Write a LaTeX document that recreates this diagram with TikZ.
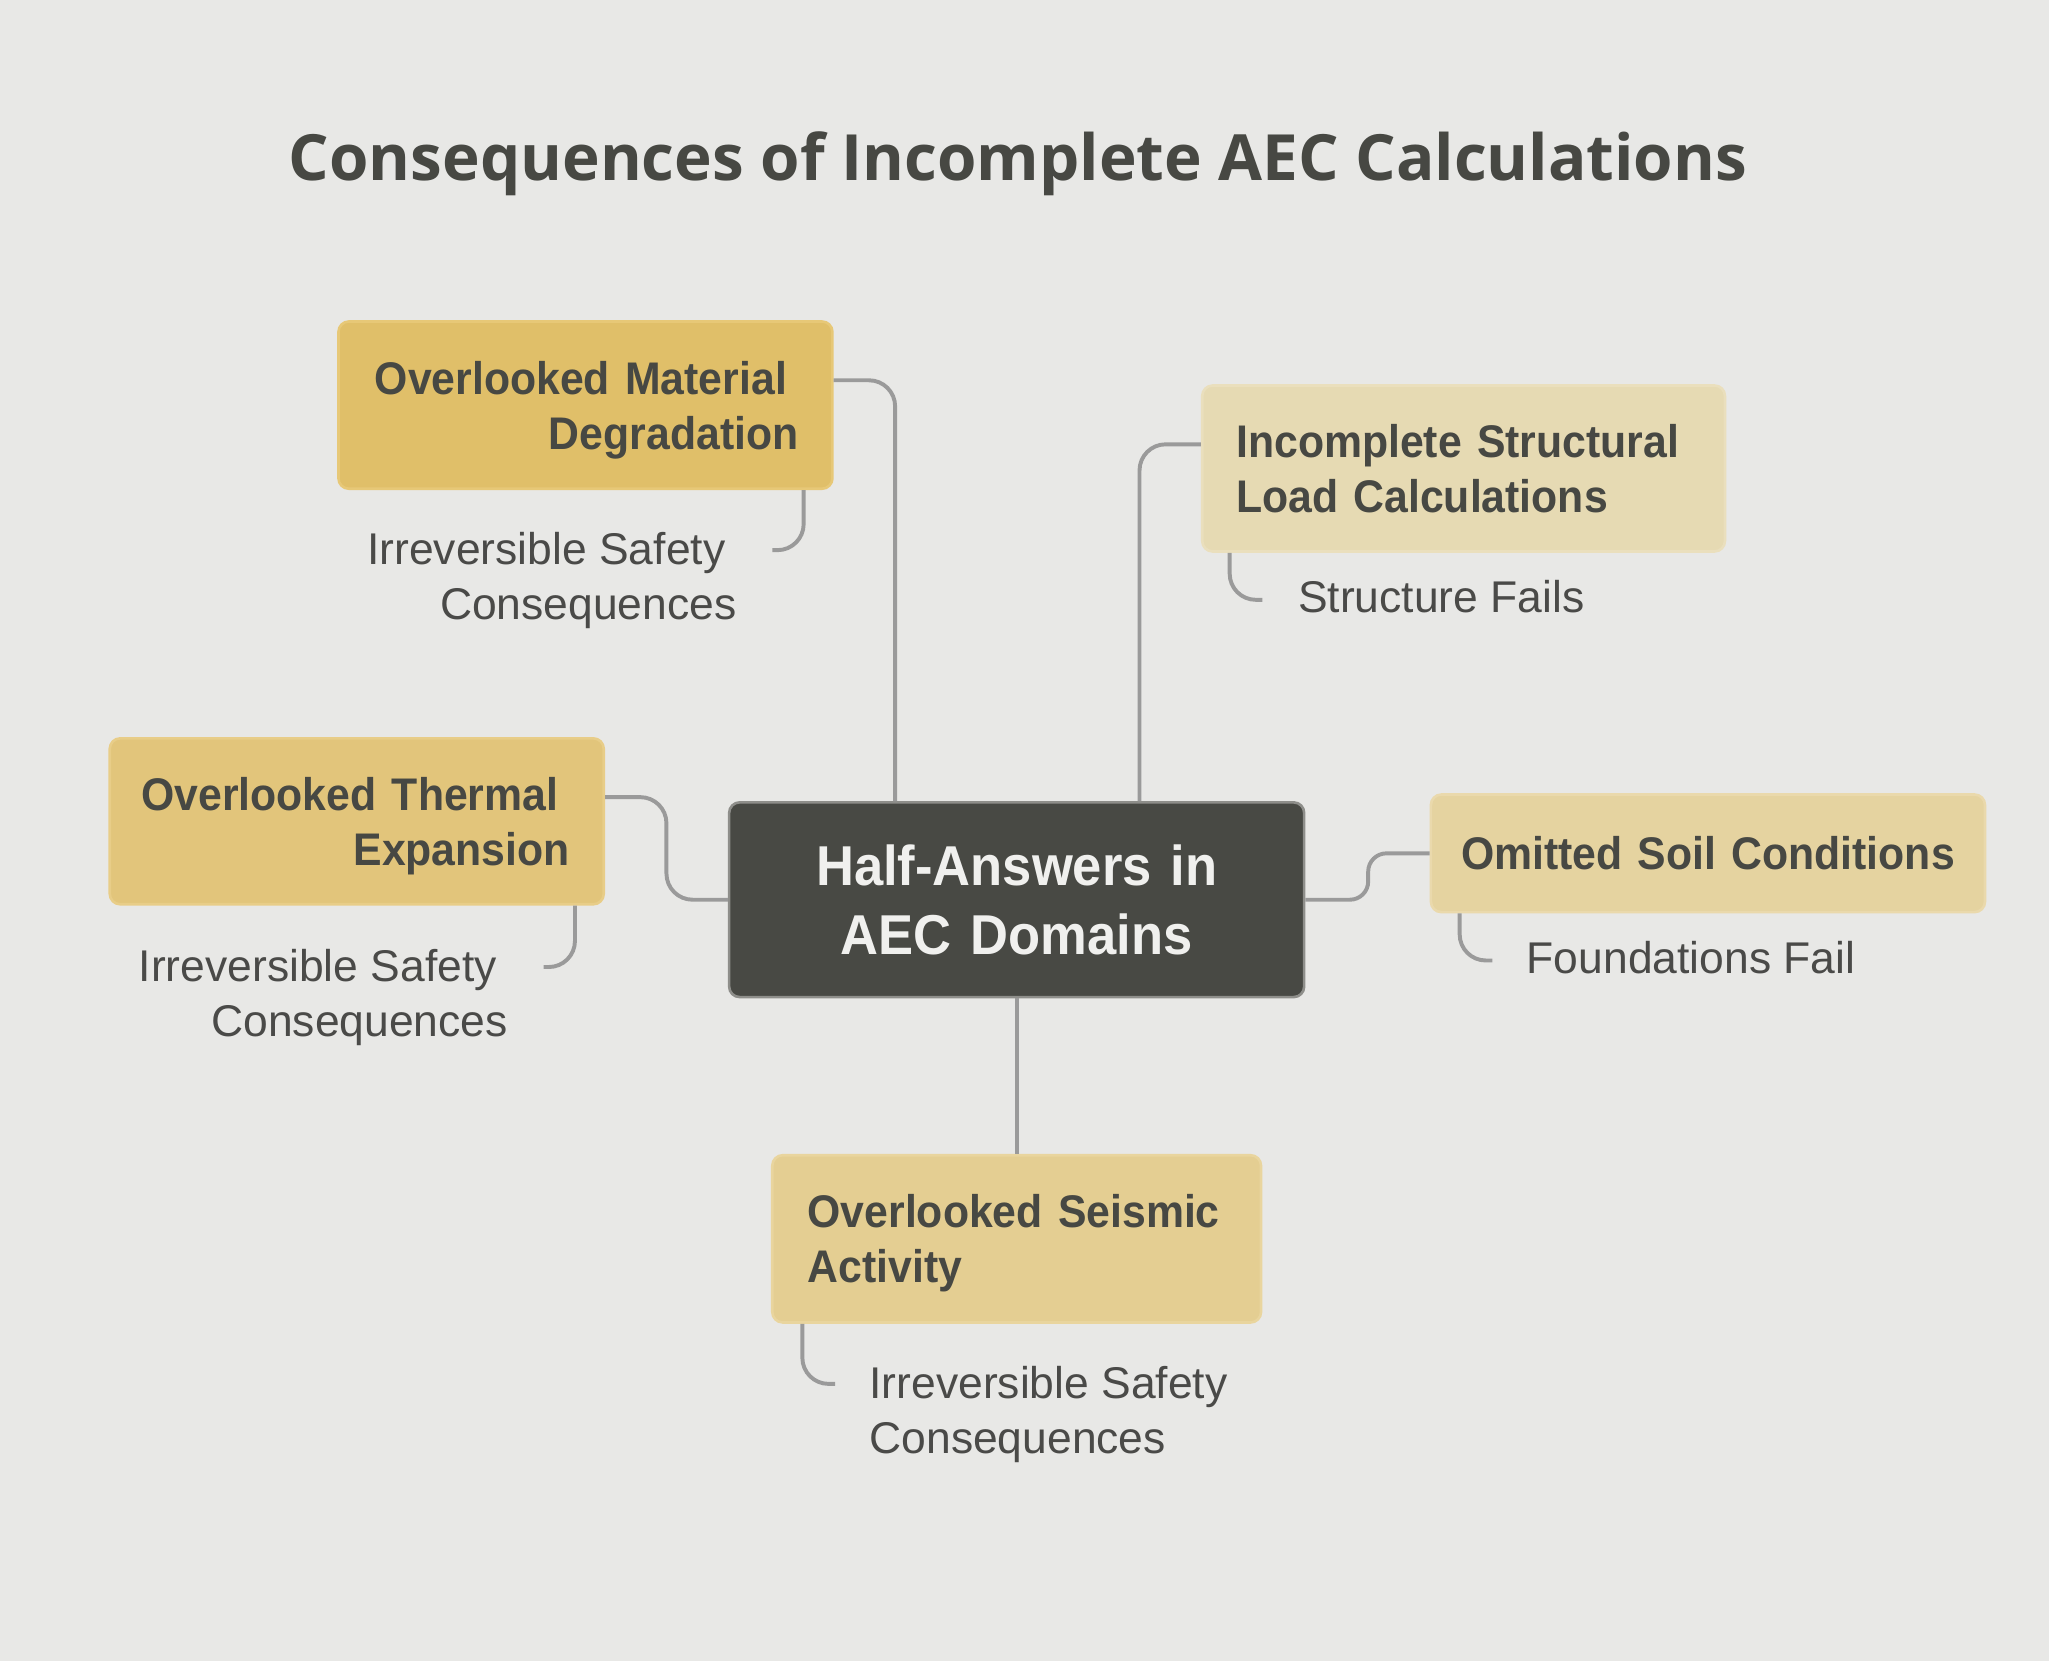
\documentclass[tikz,border=0pt]{standalone}
\usepackage{fontspec}
\setmainfont{Liberation Sans}
\newfontfamily\titlefont{Open Sans}
\newfontfamily\boxfont[FakeStretch=0.935]{Liberation Sans}
\usetikzlibrary{calc}
\newcommand\nodp[1]{\raisebox{0pt}[\height][0pt]{#1}}
\definecolor{bgc}{HTML}{E8E8E6}
\definecolor{txt}{HTML}{474843}
\definecolor{subtxt}{HTML}{4A4A48}
\definecolor{lnc}{HTML}{9A9A9A}
\definecolor{cA}{HTML}{E0BF69}
\definecolor{cAb}{HTML}{E7C877}
\definecolor{cB}{HTML}{E6DAB3}
\definecolor{cBb}{HTML}{EADFBD}
\definecolor{cC}{HTML}{E2C57B}
\definecolor{cCb}{HTML}{E8CD88}
\definecolor{cD}{HTML}{E5D3A0}
\definecolor{cDb}{HTML}{EAD9AC}
\definecolor{cE}{HTML}{E4CE92}
\definecolor{cEb}{HTML}{E9D59E}
\definecolor{cCen}{HTML}{484944}
\definecolor{cCenb}{HTML}{8E8E8A}
\definecolor{cText}{HTML}{F0F0EE}
\tikzset{
  box/.style={rounded corners=4pt, line width=1pt, inner xsep=13pt, inner ysep=0pt,
    font=\boxfont\bfseries\fontsize{17.5}{21}\selectfont, text=txt},
  cenbox/.style={rounded corners=4pt, line width=1pt, inner xsep=13pt, inner ysep=0pt,
    font=\boxfont\bfseries\fontsize{21.5}{26.5}\selectfont, text=cText, fill=cCen, draw=cCenb},
  sublabel/.style={inner sep=0pt, font=\fontsize{17}{21}\selectfont, text=subtxt},
  conn/.style={draw=lnc, line width=1.5pt, rounded corners=10pt},
}
\begin{document}
\begin{tikzpicture}[x=0.5pt,y=-0.5pt]
\fill[bgc] (0,0) rectangle (1568,1271);
\useasboundingbox (0,0) rectangle (1568,1271);

\node[anchor=base, inner sep=0pt, font=\titlefont\bfseries\fontsize{24.4}{30}\selectfont, text=txt] (title) at (779,138) {Consequences of Incomplete AEC Calculations};

\node[cenbox, text width=194pt, minimum height=74.5pt, align=center] (C) at (778,688.5) {Half-Answers in\\AEC Domains};

\node[box, fill=cA, draw=cAb, inner xsep=7pt, text width=175pt, minimum height=64pt, align=right] (B1) at (448,310) {Overlooked Material\kern10.4pt\\\nodp{Degradation}\kern6pt};
\node[box, fill=cB, draw=cBb, text width=174pt, minimum height=63.5pt, align=left] (B2) at (1120,358.5) {Incomplete Structural\\Load Calculations};
\node[box, fill=cC, draw=cCb, inner xsep=7pt, text width=175pt, minimum height=63.5pt, align=right] (B3) at (273,628.5) {Overlooked Thermal\kern10.4pt\\\nodp{Expansion}\kern6pt};
\node[box, fill=cD, draw=cDb, inner xsep=8pt, text width=196pt, minimum height=45pt, align=center] (B4) at (1307,653) {Omitted Soil Conditions};
\node[box, fill=cE, draw=cEb, inner xsep=13.5pt, text width=160pt, minimum height=64pt, align=left] (B5) at (778,948) {Overlooked Seismic\\\nodp{Activity}};

\node[sublabel, anchor=base east, align=right] (S1) at (564,474) {Irreversible Safety\kern0.25em\\Consequences};
\node[sublabel, anchor=base west, align=left] (S2) at (993,469) {Structure Fails};
\node[sublabel, anchor=base east, align=right] (S3) at (389,793) {Irreversible Safety\kern0.25em\\Consequences};
\node[sublabel, anchor=base west, align=left] (S4) at (1168,745) {Foundations Fail};
\node[sublabel, anchor=base west, align=left] (S5) at (665,1112.5) {Irreversible Safety\\Consequences};

\coordinate (e1) at (591,421);
\coordinate (e2) at (966,459);
\coordinate (e3) at (416,740);
\coordinate (e4) at (1142,735);
\coordinate (e5) at (639,1059);

% main connectors
\draw[conn] ($(C.north)+(-93,0)$) |- ($(B1.east)+(0,-19)$);
\draw[conn] ($(C.north)+(94,0)$) |- ($(B2.west)+(0,-18.5)$);
\draw[conn] (C.west) -- ++(-47,0) |- ($(B3.east)+(0,-18.5)$);
\draw[conn, rounded corners=7pt] (C.east) -- ++(48,0) |- (B4.west);
\draw[conn] (C.south) -- (B5.north);

% sub connectors
\draw[conn] ($(B1.south)+(167,0)$) |- (e1);
\draw[conn] ($(B2.south)+(-179,0)$) |- (e2);
\draw[conn] ($(B3.south)+(167,0)$) |- (e3);
\draw[conn] ($(B4.south)+(-190,0)$) |- (e4);
\draw[conn] ($(B5.south)+(-164,0)$) |- (e5);
\end{tikzpicture}
\end{document}
